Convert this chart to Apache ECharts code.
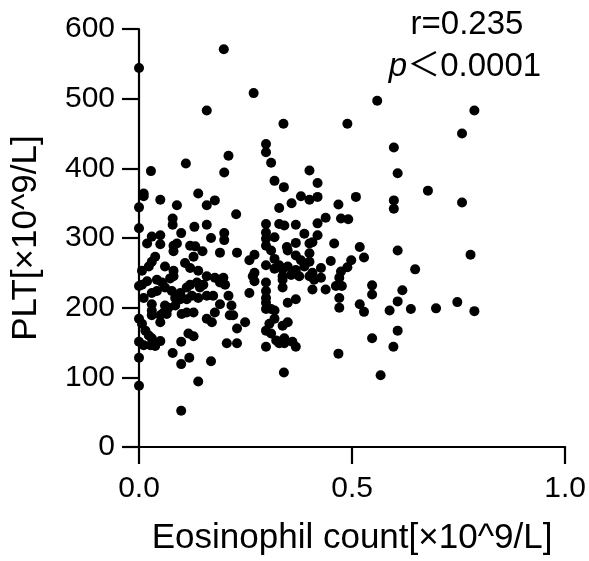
<!DOCTYPE html>
<html>
<head>
<meta charset="utf-8">
<script src="https://cdn.jsdelivr.net/npm/echarts@6/dist/echarts.min.js"></script>
<style>html,body{margin:0;padding:0;background:#fff}#c{width:589px;height:561px}</style>
</head>
<body>
<div id="c"></div>
<script>
var xTicks = [0.0, 0.5, 1.0];
var yTicks = [0, 100, 200, 300, 400, 500, 600];
var eosinophil = [
0.0,0.0,0.0,0.0,0.0,0.0,0.0,0.0,0.011,0.011,0.028,
0.11,0.21,0.2,0.05,0.089,0.139,0.159,0.178,0.079,0.079,0.13,0.159,0.099,0.169,0.2,0.2,0.03,0.05,0.019,0.05,0.081,0.089,0.081,0.12,0.132,0.149,0.19,0.128,0.038,0.03,0.023,0.007,0.061,0.081,0.108,0.12,0.139,
0.228,0.23,0.199,0.269,0.159,
0.081,0.073,0.159,0.178,0.198,0.202,0.19,0.019,0.007,0.042,0.054,0.061,0.077,0.097,0.112,0.12,0.136,0.143,0.151,0.03,0.042,0.011,0.03,0.03,0.03,0.05,0.05,0.058,0.065,0.069,0.061,0.085,0.097,0.112,0.124,0.139,0.159,0.174,0.19,0.21,0.085,0.1,0.112,0.128,0.159,0.171,0.178,0.213,0.007,0.015,0.023,0.03,0.011,0.027,0.038,0.05,0.116,0.128,0.099,0.206,0.079,0.099,0.118,0.169,0.139,0.099,
0.217,0.221,0.23,0.249,0.23,0.259,0.267,0.271,
0.298,0.298,0.31,0.4,0.419,0.318,0.34,0.38,0.4,0.419,0.468,0.358,0.329,0.438,0.474,0.298,0.329,0.341,0.368,0.419,0.298,0.298,0.318,0.298,0.31,0.388,0.419,0.407,0.4,0.368,0.347,0.349,0.458,0.271,0.259,0.298,0.318,0.329,0.368,0.38,0.4,0.4,0.349,0.368,0.388,0.45,0.427,0.271,0.407,0.474,0.339,
0.337,0.318,0.337,0.357,0.376,0.4,0.411,0.427,0.47,0.462,0.476,0.298,0.298,0.298,0.298,0.298,0.31,0.318,0.337,0.337,0.349,0.368,0.407,0.438,0.47,0.47,0.318,0.306,0.298,0.31,0.322,0.329,0.341,0.341,0.349,0.337,0.36,0.368,0.298,0.468,0.34,
0.559,0.787,0.489,0.758,0.598,0.607,0.678,0.509,0.598,0.598,0.758,0.491,0.518,0.607,0.778,0.498,0.528,0.489,0.648,0.547,0.547,0.618,0.607,0.518,0.528,0.588,0.638,0.697,0.747,0.787,0.607,0.547,0.597,0.567
];
var plt = [
544,344,314,231,184,151,128,88,364,360,396,
407,418,394,355,347,364,347,354,328,319,316,319,307,300,307,297,302,304,292,291,289,292,281,289,288,281,279,273,273,266,259,253,259,253,264,257,253,
334,279,571,508,483,
245,242,245,243,243,233,236,238,233,240,236,229,224,221,229,233,236,229,233,221,224,214,205,196,189,189,179,193,191,200,203,214,212,212,217,214,217,217,205,217,203,191,193,193,184,179,193,189,177,167,160,156,146,146,145,152,163,159,151,149,135,119,128,123,94,52,
203,189,170,179,149,221,245,238,
435,423,408,397,379,382,373,360,355,359,348,350,343,329,328,320,320,318,319,321,308,299,301,289,282,306,304,294,292,293,287,282,292,276,268,261,270,261,275,268,278,266,259,254,259,267,257,250,250,252,464,
255,256,245,247,245,245,240,243,243,231,231,236,224,214,207,198,198,196,240,229,207,212,226,226,214,200,184,177,167,163,153,149,149,156,179,174,151,144,144,134,107,
497,483,464,450,430,393,368,359,354,342,351,327,287,282,276,268,272,258,255,232,219,225,209,205,194,196,198,199,208,195,167,156,144,103
];
var annotR = 'r=0.235';
var annotP = '＜0.0001';
var points = eosinophil.map(function (x, i) { return [x, plt[i]]; });

var chart = echarts.init(document.getElementById('c'), null, {renderer: 'canvas'});
var font = 'Arial, "Liberation Sans", "Noto Sans CJK SC", sans-serif';
chart.setOption({
  animation: false,
  backgroundColor: '#fff',
  grid: {left: 139, top: 29, width: 428, height: 427, containLabel: false},
  xAxis: {
    type: 'value', min: 0, max: 1, interval: 0.5,
    name: 'Eosinophil count[×10^9/L]', nameLocation: 'middle', nameGap: 74,
    nameTextStyle: {fontSize: 35, color: '#000', fontFamily: font},
    axisLine: {show: true, lineStyle: {color: '#000', width: 2.2}},
    axisTick: {show: true, inside: false, length: 17, lineStyle: {color: '#000', width: 2.2}},
    axisLabel: {fontSize: 30, color: '#000', fontFamily: font, margin: 27,
      formatter: function (v) { return v.toFixed(1); }},
    splitLine: {show: false}
  },
  yAxis: {
    type: 'value', min: 0, max: 600, interval: 100,
    name: 'PLT[×10^9/L]', nameLocation: 'middle', nameGap: 95,
    nameTextStyle: {fontSize: 35, color: '#000', fontFamily: font},
    axisLine: {show: true, lineStyle: {color: '#000', width: 2.2}},
    axisTick: {show: true, inside: false, length: 17, lineStyle: {color: '#000', width: 2.2}},
    axisLabel: {fontSize: 30, color: '#000', fontFamily: font, margin: 24},
    splitLine: {show: false}
  },
  graphic: [
    {type: 'text', x: 467, y: 25, style: {text: annotR, align: 'center', verticalAlign: 'middle', fontSize: 33, fill: '#000', fontFamily: font}},
    {type: 'text', x: 465, y: 67, style: {text: '{i|p}' + annotP, align: 'center', verticalAlign: 'middle', fontSize: 33, fill: '#000', fontFamily: font,
      rich: {i: {fontStyle: 'italic', fontSize: 33, fontFamily: font}}}}
  ],
  series: [{
    type: 'scatter', data: points, symbol: 'circle', symbolSize: 10,
    itemStyle: {color: '#000', opacity: 1}
  }]
});
</script>
</body>
</html>
